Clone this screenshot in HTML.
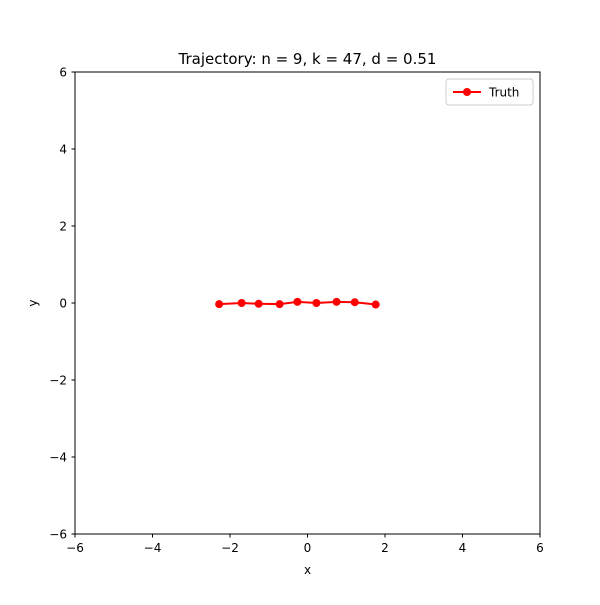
<!DOCTYPE html>
<html><head><meta charset="utf-8"><style>
body{margin:0;background:#fff;}
svg text{font-family:"DejaVu Sans","Liberation Sans",sans-serif;}
</style></head><body>
<svg id="chart" width="600" height="600">
<rect width="600" height="600" fill="#fff"/>
<text x="307.5" y="64" font-size="15" text-anchor="middle">Trajectory: n = 9, k = 47, d = 0.51</text>
<g id="ticks"></g>
<g id="series"></g>
<rect x="75" y="72" width="465" height="462" fill="none" stroke="#000" stroke-width="1"/>
<text x="307.5" y="574" font-size="12" text-anchor="middle">x</text>
<text x="37" y="303" font-size="12" text-anchor="middle" transform="rotate(-90 37 303)">y</text>
<g>
<rect x="446" y="79" width="87" height="26" rx="3" fill="#fff" stroke="#ccc"/>
<line x1="453" y1="92" x2="481" y2="92" stroke="red" stroke-width="2"/>
<circle cx="467" cy="92" r="4" fill="red"/>
<text x="489" y="96.5" font-size="12">Truth</text>
</g>
</svg>
<script>
const xs = [-2.28, -1.70, -1.26, -0.72, -0.26, 0.23, 0.75, 1.22, 1.76];
const ys = [-0.03, 0.00, -0.02, -0.03, 0.03, 0.00, 0.03, 0.02, -0.04];
const xTicks = [-6, -4, -2, 0, 2, 4, 6];
const yTicks = [-6, -4, -2, 0, 2, 4, 6];
const NS = "http://www.w3.org/2000/svg";
function sx(v){return 75 + (v + 6) / 12 * 465;}
function sy(v){return 534 - (v + 6) / 12 * 462;}
const tg = document.getElementById('ticks');
function mk(tag, attrs, parent){const e=document.createElementNS(NS,tag);for(const k in attrs)e.setAttribute(k,attrs[k]);parent.appendChild(e);return e;}
xTicks.forEach(t=>{
  const l = mk('line',{x1:sx(t),x2:sx(t),y1:534,y2:537.5,stroke:'#000'},tg);
  
  
  const tx = mk('text',{x:sx(t),y:552,'font-size':12,'text-anchor':'middle'},tg);
  tx.textContent = (t<0?'\u2212':'')+Math.abs(t);
  
  
});
yTicks.forEach(t=>{
  const l = mk('line',{x1:71.5,x2:75,y1:sy(t),y2:sy(t),stroke:'#000'},tg);
  
  
  const tx = mk('text',{x:67,y:sy(t)+4.5,'font-size':12,'text-anchor':'end'},tg);
  tx.textContent = (t<0?'\u2212':'')+Math.abs(t);
  
  
});
const sg = document.getElementById('series');
const pts = xs.map((x,i)=>sx(x)+','+sy(ys[i])).join(' ');
const pl = mk('polyline',{points:pts,fill:'none',stroke:'red','stroke-width':2},sg);


xs.forEach((x,i)=>{
  const c = mk('circle',{cx:sx(x),cy:sy(ys[i]),r:4,fill:'red'},sg);
  
  
});
</script>
</body></html>
